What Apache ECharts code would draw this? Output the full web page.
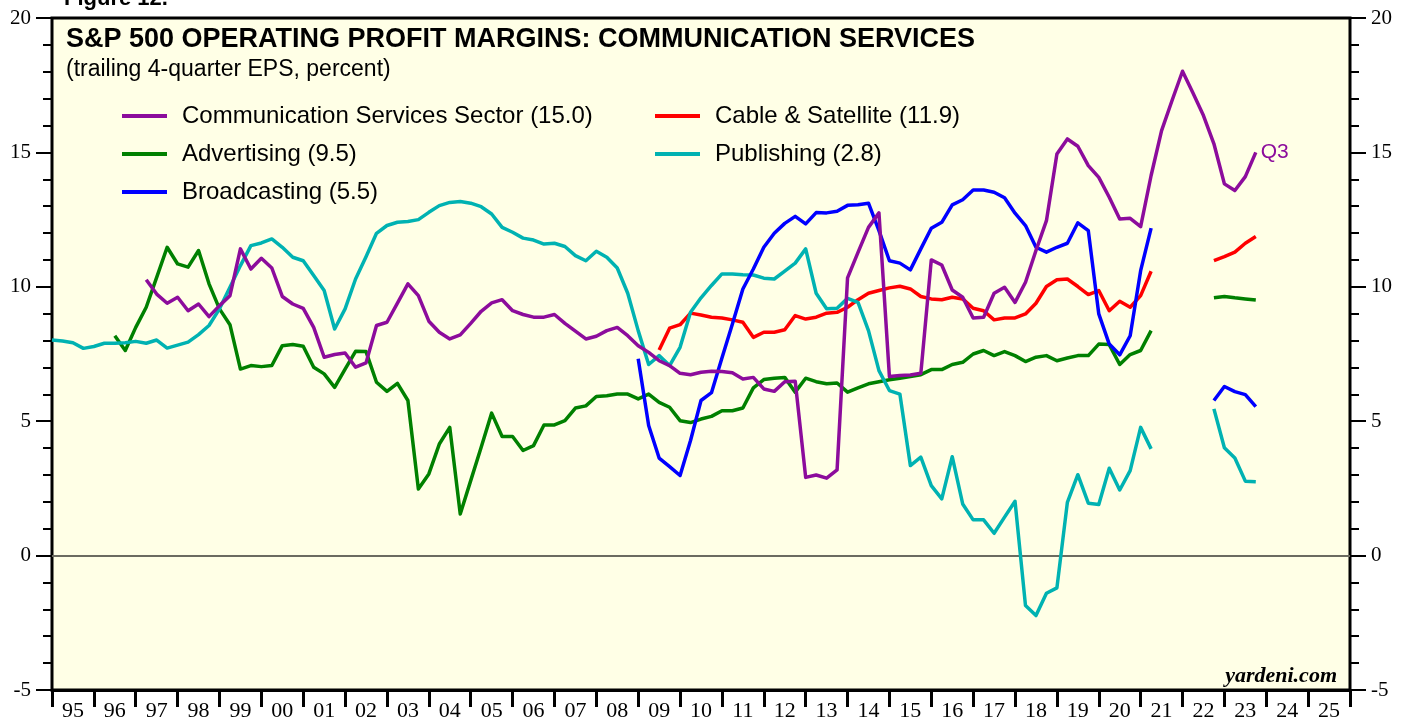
<!DOCTYPE html>
<html>
<head>
<meta charset="utf-8">
<title>S&amp;P 500 Operating Profit Margins: Communication Services</title>
<script src="https://cdn.jsdelivr.net/npm/echarts@6/dist/echarts.min.js"></script>
<style>
  html, body { margin: 0; padding: 0; background: #fff; }
  #chart { width: 1407px; height: 717px; }
</style>
</head>
<body>
<div id="chart"></div>
<script>
// quarterly values, index 0 = 1994Q4 (plotted at 1995.0), last = 2023Q3
// null = no data for that quarter
const N = null;

const yearLabels = ['95','96','97','98','99','00','01','02','03','04','05','06','07','08','09',
  '10','11','12','13','14','15','16','17','18','19','20','21','22','23','24','25'];

const commServices = [
  N, N, N, N, N, N, N, N, N,
  10.26, 9.73, 9.39, 9.61, 9.11, 9.36, 8.89, 9.30, 9.67, 11.41,
  10.66, 11.06, 10.70, 9.64, 9.36, 9.20, 8.49, 7.38, 7.48, 7.54,
  7.01, 7.17, 8.56, 8.68, 9.39, 10.11, 9.67, 8.72, 8.31, 8.06,
  8.21, 8.64, 9.09, 9.40, 9.52, 9.11, 8.97, 8.87, 8.87, 8.97,
  8.64, 8.35, 8.06, 8.16, 8.37, 8.49, 8.18, 7.81, 7.56, 7.25,
  7.07, 6.78, 6.73, 6.82, 6.86, 6.85, 6.80, 6.57, 6.63, 6.20,
  6.11, 6.47, 6.49, 2.91, 3.00, 2.88, 3.19, 10.33, 11.28, 12.21,
  12.75, 6.66, 6.70, 6.72, 6.78, 11.00, 10.81, 9.88, 9.61, 8.84,
  8.87, 9.76, 9.98, 9.42, 10.17, 11.35, 12.46, 14.94, 15.50, 15.23,
  14.51, 14.07, 13.33, 12.52, 12.55, 12.24, 14.14, 15.81, 16.93, 18.02,
  17.21, 16.37, 15.32, 13.83, 13.58, 14.10, 15.00
];

const cableSatellite = [
  N, N, N, N, N, N, N, N, N, N, N, N, N, N, N, N, N, N, N, N,
  N, N, N, N, N, N, N, N, N, N, N, N, N, N, N, N, N, N, N, N,
  N, N, N, N, N, N, N, N, N, N, N, N, N, N, N, N, N, N,
  7.65, 8.46, 8.59, 9.02, 8.95, 8.87, 8.84, 8.77, 8.68, 8.12,
  8.31, 8.31, 8.40, 8.93, 8.80, 8.87, 9.02, 9.05, 9.24, 9.52,
  9.76, 9.86, 9.96, 10.02, 9.92, 9.64, 9.55, 9.52, 9.61, 9.55,
  9.20, 9.11, 8.77, 8.84, 8.84, 8.99, 9.39, 10.01, 10.26, 10.29,
  10.01, 9.71, 9.86, 9.11, 9.46, 9.24, 9.67, 10.58,
  N, N, N, N, N,
  10.97, 11.12, 11.29, 11.62, 11.87
];

const advertising = [
  N, N, N, N, N, N,
  8.18, 7.63, 8.49, 9.24, 10.35, 11.47, 10.85, 10.73, 11.35, 10.11,
  9.18, 8.59, 6.94, 7.07, 7.03, 7.07, 7.81, 7.85, 7.79, 7.01,
  6.76, 6.26, 6.94, 7.60, 7.59, 6.45, 6.11, 6.41, 5.77, 2.48,
  3.04, 4.15, 4.77, 1.55, 2.79, 4.03, 5.30, 4.43, 4.43, 3.91,
  4.09, 4.86, 4.86, 5.02, 5.49, 5.57, 5.92, 5.95, 6.01, 6.01,
  5.83, 6.01, 5.70, 5.52, 5.02, 4.95, 5.08, 5.18, 5.39, 5.39,
  5.49, 6.24, 6.55, 6.60, 6.63, 6.08, 6.60, 6.47, 6.39, 6.42,
  6.08, 6.24, 6.39, 6.47, 6.54, 6.60, 6.66, 6.73, 6.92, 6.92,
  7.11, 7.19, 7.50, 7.63, 7.44, 7.59, 7.44, 7.22, 7.38, 7.44,
  7.25, 7.35, 7.44, 7.44, 7.87, 7.85, 7.11, 7.48, 7.63, 8.37,
  N, N, N, N, N,
  9.59, 9.64, 9.59, 9.55, 9.51
];

const publishing = [
  8.02, 7.98, 7.92, 7.71, 7.78, 7.90, 7.90, 7.92, 7.97, 7.90,
  8.02, 7.72, 7.83, 7.94, 8.22, 8.56, 9.18, 9.98, 10.79, 11.53,
  11.63, 11.78, 11.47, 11.10, 10.97, 10.42, 9.86, 8.43, 9.18, 10.29,
  11.12, 11.99, 12.28, 12.40, 12.43, 12.50, 12.77, 13.02, 13.14, 13.17,
  13.11, 12.98, 12.71, 12.21, 12.03, 11.81, 11.74, 11.59, 11.62, 11.50,
  11.16, 10.97, 11.32, 11.10, 10.70, 9.76, 8.37, 7.11, 7.44, 7.07,
  7.75, 9.05, 9.59, 10.05, 10.48, 10.48, 10.45, 10.44, 10.32, 10.29,
  10.58, 10.88, 11.41, 9.76, 9.18, 9.20, 9.57, 9.42, 8.37, 6.88,
  6.14, 6.01, 3.35, 3.66, 2.60, 2.11, 3.68, 1.92, 1.33, 1.33,
  0.83, 1.43, 2.02, -1.86, -2.23, -1.40, -1.20, 1.98, 3.01, 1.95,
  1.90, 3.25, 2.44, 3.16, 4.77, 3.97,
  N, N, N, N, N,
  5.46, 4.01, 3.63, 2.77, 2.75
];

const broadcasting = [
  N, N, N, N, N, N, N, N, N, N, N, N, N, N, N, N, N, N, N, N,
  N, N, N, N, N, N, N, N, N, N, N, N, N, N, N, N, N, N, N, N,
  N, N, N, N, N, N, N, N, N, N, N, N, N, N, N, N,
  7.32, 4.84, 3.63, 3.31, 2.98, 4.28, 5.77, 6.06, 7.35, 8.62,
  9.92, 10.66, 11.47, 11.99, 12.36, 12.62, 12.34, 12.76, 12.75, 12.81,
  13.03, 13.05, 13.11, 12.09, 10.97, 10.88, 10.63, 11.41, 12.18, 12.40,
  13.05, 13.24, 13.60, 13.60, 13.52, 13.31, 12.74, 12.28, 11.47, 11.29,
  11.47, 11.62, 12.38, 12.09, 8.99, 7.87, 7.47, 8.18, 10.60, 12.18,
  N, N, N, N, N,
  5.77, 6.29, 6.10, 5.99, 5.54
];

// ---- helpers ----
const toPoints = arr => arr.map((v, i) => [1995 + i / 4, v]);

const SANS = 'Arial, "Liberation Sans", Helvetica, sans-serif';
const SERIF = '"Times New Roman", "Liberation Serif", serif';

function lineSeries(name, data, color, extra) {
  return Object.assign({
    name: name,
    type: 'line',
    xAxisIndex: 0,
    yAxisIndex: 0,
    data: toPoints(data),
    showSymbol: false,
    symbol: 'none',
    connectNulls: false,
    lineStyle: { color: color, width: 3.5, join: 'round' },
    itemStyle: { color: color },
    emphasis: { disabled: true },
    z: 3
  }, extra || {});
}

const chart = echarts.init(document.getElementById('chart'), null, { renderer: 'canvas' });

const yAxisCommon = {
  type: 'value',
  min: -5,
  max: 20,
  interval: 5,
  axisLine: { show: false },
  axisTick: { show: true, inside: false, length: 16, lineStyle: { color: '#000', width: 2 } },
  minorTick: { show: true, splitNumber: 5, length: 9, lineStyle: { color: '#000', width: 2 } },
  splitLine: { show: false },
  axisLabel: { color: '#000', fontFamily: SERIF, fontSize: 21, margin: 21 }
};

const legendCommon = {
  orient: 'vertical',
  top: 104,
  padding: 0,
  itemGap: 14,
  itemWidth: 45,
  itemHeight: 4,
  icon: 'rect',
  selectedMode: false,
  textStyle: { color: '#000', fontFamily: SANS, fontSize: 24, lineHeight: 24, padding: [0, 0, 0, 10] }
};

chart.setOption({
  backgroundColor: '#ffffff',
  animation: false,
  title: {
    text: 'S&P 500 OPERATING PROFIT MARGINS: COMMUNICATION SERVICES',
    subtext: '(trailing 4-quarter EPS, percent)',
    left: 66,
    top: 26,
    padding: 0,
    itemGap: 5,
    textStyle: { color: '#000', fontFamily: SANS, fontSize: 27, fontWeight: 'bold' },
    subtextStyle: { color: '#000', fontFamily: SANS, fontSize: 23 }
  },
  legend: [
    Object.assign({
      data: ['Communication Services Sector (15.0)', 'Advertising (9.5)', 'Broadcasting (5.5)'],
      left: 122
    }, legendCommon),
    Object.assign({
      data: ['Cable & Satellite (11.9)', 'Publishing (2.8)'],
      left: 655
    }, legendCommon)
  ],
  grid: {
    left: 52,
    right: 57,
    top: 18,
    bottom: 27,
    show: true,
    backgroundColor: '#FFFFE6',
    borderColor: '#000',
    borderWidth: 3,
    containLabel: false,
    outerBoundsMode: 'none'
  },
  xAxis: [
    {
      type: 'value',
      min: 1995,
      max: 2026,
      show: false
    },
    {
      type: 'category',
      data: yearLabels,
      position: 'bottom',
      boundaryGap: true,
      axisLine: { show: true, onZero: false, lineStyle: { color: '#000', width: 3 } },
      axisTick: { show: true, inside: false, length: 17, interval: 0, lineStyle: { color: '#000', width: 3 } },
      axisLabel: { color: '#000', fontFamily: SERIF, fontSize: 22, margin: 10, interval: 0 },
      splitLine: { show: false }
    }
  ],
  yAxis: [
    Object.assign({ position: 'left' }, yAxisCommon),
    Object.assign({ position: 'right' }, yAxisCommon)
  ],
  series: [
    lineSeries('Communication Services Sector (15.0)', commServices, '#8C0C9C', {
      z: 4,
      endLabel: {
        show: true,
        formatter: 'Q3',
        color: '#8C0C9C',
        fontFamily: SANS,
        fontSize: 21,
        distance: 5
      }
    }),
    lineSeries('Cable & Satellite (11.9)', cableSatellite, '#FF0000'),
    lineSeries('Advertising (9.5)', advertising, '#008000'),
    lineSeries('Publishing (2.8)', publishing, '#00B2B2', {
      markLine: {
        silent: true,
        symbol: 'none',
        label: { show: false },
        lineStyle: { color: '#6B6B60', width: 2, type: 'solid' },
        data: [{ yAxis: 0 }],
        z: 1
      }
    }),
    lineSeries('Broadcasting (5.5)', broadcasting, '#0000FF')
  ],
  graphic: [
    {
      type: 'text',
      left: 64,
      top: -12,
      style: { text: 'Figure 12.', fill: '#000', font: 'bold 22px ' + SANS }
    },
    {
      type: 'text',
      right: 70,
      top: 665,
      style: { text: 'yardeni.com', fill: '#000', font: 'italic bold 22px ' + SERIF }
    }
  ]
});
</script>
</body>
</html>
